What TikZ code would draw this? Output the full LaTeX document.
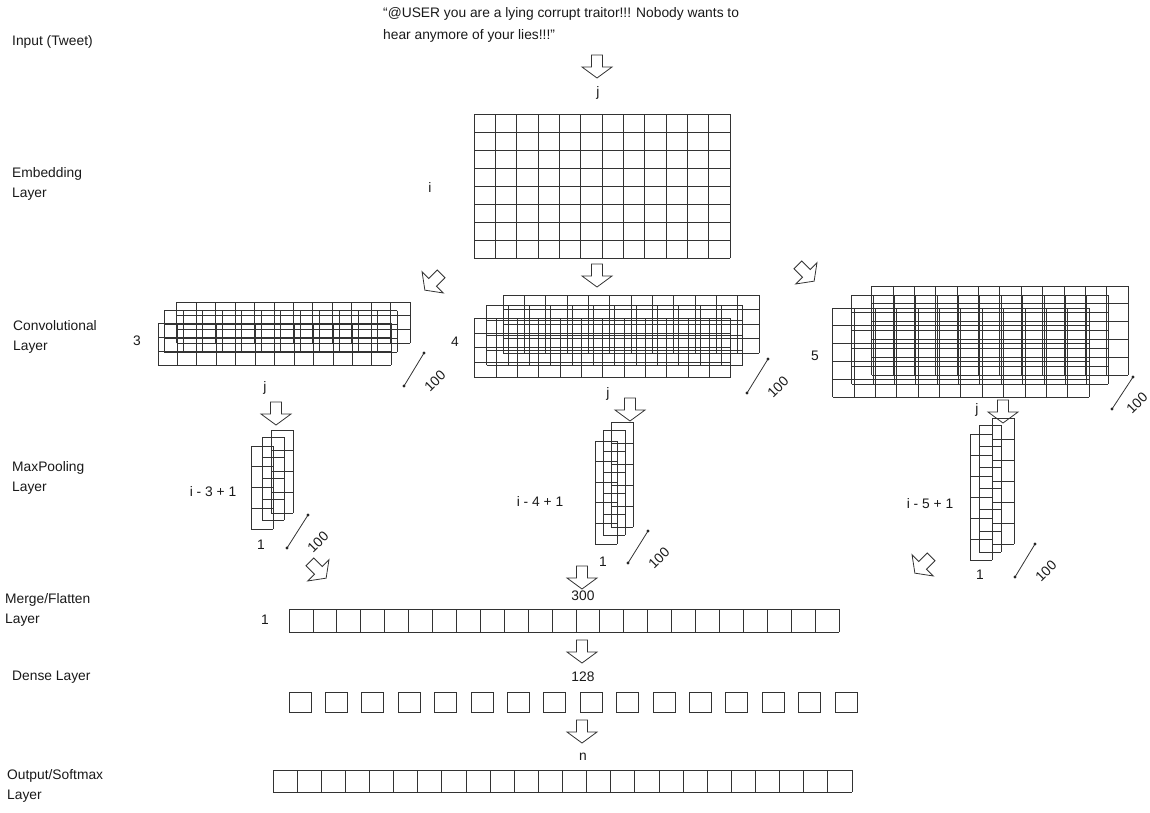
\documentclass[tikz,border=0pt]{standalone}
\usepackage{fontspec}
\setmainfont{Liberation Sans}
\newcommand\cellgrid[6]{%
  \foreach \gi in {0,...,#3}{\draw[ln] ({#1+\gi*#5},#2) -- ({#1+\gi*#5},{#2+#4*#6});}%
  \foreach \gj in {0,...,#4}{\draw[ln] (#1,{#2+\gj*#6}) -- ({#1+#3*#5},{#2+\gj*#6});}%
}
\newcommand\blockarrow[3]{%
  \draw[ln, shift={(#1,#2)}, rotate=#3] (-5.5,-11.5) -- (5.5,-11.5) -- (5.5,0.5) -- (15,0.5) -- (0,11.5) -- (-15,0.5) -- (-5.5,0.5) -- cycle;}
\newcommand\scalemark[7]{%
  \coordinate (#1a) at (#2,#3); \coordinate (#1b) at (#4,#5);
  \draw[ln] (#1a) -- (#1b);
  \fill[black!85] (#1a) circle (1.7); \fill[black!85] (#1b) circle (1.7);
  \node[lbl, rotate=45] (#1t) at (#6,#7) {100};}
\begin{document}
\begin{tikzpicture}[x=1pt,y=-1pt,
  ln/.style={draw=black!80, line width=0.8pt},
  lbl/.style={font=\fontsize{13.8}{19.5}\selectfont, inner sep=0pt, text=black!90},
  side/.style={lbl, anchor=west, align=left}]
\useasboundingbox (0,0) rectangle (1150,812);

% left labels
\node[side] (Lin) at (12,42) {Input (Tweet)};
\node[side] (Lemb) at (12,184) {Embedding\\Layer};
\node[side] (Lconv) at (13,337) {Convolutional\\Layer};
\node[side] (Lmax) at (12,478) {MaxPooling\\Layer};
\node[side] (Lflat) at (5,610) {Merge/Flatten\\Layer};
\node[side] (Ldense) at (12,677) {Dense Layer};
\node[side] (Lout) at (7,786) {Output/Softmax\\Layer};

% tweet
\node[lbl, anchor=west, align=left, font=\fontsize{13.8}{21.5}\selectfont] (tweet) at (383,25)
  {“@USER you are a lying corrupt traitor!!! Nobody wants to\\hear anymore of your lies!!!”};
\blockarrow{597}{66.5}{0}
\node[lbl] (ej) at (598,93) {j};

% embedding
\cellgrid{474}{114}{12}{8}{21.33}{18}
\draw[ln, line width=1pt] (602,114) -- (602,258);
\draw[ln, line width=1pt] (474,204) -- (730,204);
\node[lbl] (ei) at (430,187) {i};

% arrows to conv
\blockarrow{433}{282}{-45}
\blockarrow{597}{275.5}{0}
\blockarrow{806}{273}{45}

% conv 3
\cellgrid{176.7}{302}{12}{3}{19.44}{13.8}
\cellgrid{164}{310.7}{12}{3}{19.44}{13.8}
\cellgrid{158}{323.3}{12}{3}{19.44}{13.9}
\node[lbl] (c3) at (137,341) {3};
\scalemark{m1}{404}{386}{424}{353}{435}{381}

% conv 4
\cellgrid{503}{295}{12}{4}{21.33}{14.5}
\cellgrid{486.7}{305}{12}{4}{21.33}{15}
\cellgrid{474.7}{318}{12}{4}{21.33}{14.9}
\node[lbl] (c4) at (455,342) {4};
\scalemark{m2}{747}{393}{768}{359}{778}{387}

% conv 5
\cellgrid{871.7}{286}{12}{5}{21.36}{17.8}
\cellgrid{851.7}{295}{12}{5}{21.36}{17.8}
\cellgrid{832.7}{308}{12}{5}{21.36}{17.8}
\node[lbl] (c5) at (815,356) {5};
\scalemark{m3}{1112}{409}{1133}{377}{1137}{403}

% maxpool 3
\node[lbl] (mj3) at (265,388) {j};
\blockarrow{276}{413.5}{0}
\cellgrid{271}{430}{1}{4}{22}{20.75}
\cellgrid{262}{437}{1}{4}{22}{20.75}
\cellgrid{251}{446}{1}{4}{22}{20.75}
\node[lbl] (mi3) at (213,492) {i - 3 + 1};
\node[lbl] (mo3) at (261,545) {1};
\scalemark{m4}{287}{548}{308}{515}{318}{542}
\blockarrow{318}{570}{45}

% maxpool 4
\node[lbl] (mj4) at (608,394) {j};
\blockarrow{630}{409.5}{0}
\cellgrid{611}{422}{1}{5}{22}{21}
\cellgrid{603}{430}{1}{5}{22}{21}
\cellgrid{595}{441}{1}{5}{22}{20.6}
\node[lbl] (mi4) at (540,501) {i - 4 + 1};
\node[lbl] (mo4) at (603,562) {1};
\scalemark{m5}{628}{563}{648}{531}{659}{558}

% maxpool 5
\node[lbl] (mj5) at (977,410) {j};
\blockarrow{1003}{411.5}{0}
\cellgrid{992}{418}{1}{6}{22}{21}
\cellgrid{979}{425}{1}{6}{22}{21.2}
\cellgrid{970}{434}{1}{6}{22}{21}
\node[lbl] (mi5) at (930,504) {i - 5 + 1};
\node[lbl] (mo5) at (980,575) {1};
\scalemark{m6}{1015}{577}{1035}{544}{1046}{571}
\blockarrow{923}{565}{-45}

% flatten
\blockarrow{582}{577.5}{0}
\node[lbl] (n300) at (583,596) {300};
\node[lbl] (f1) at (265,620) {1};
\cellgrid{289}{609}{23}{1}{23.91}{23}

% dense
\blockarrow{582}{651.5}{0}
\node[lbl] (n128) at (583,677) {128};
\foreach \k in {0,...,15}{\draw[ln] ({289+\k*36.4},692) rectangle ++(22,20);}

% output
\blockarrow{582}{731.5}{0}
\node[lbl] (nn) at (583,757) {n};
\cellgrid{273}{770}{24}{1}{24.125}{22}
\end{tikzpicture}
\end{document}
